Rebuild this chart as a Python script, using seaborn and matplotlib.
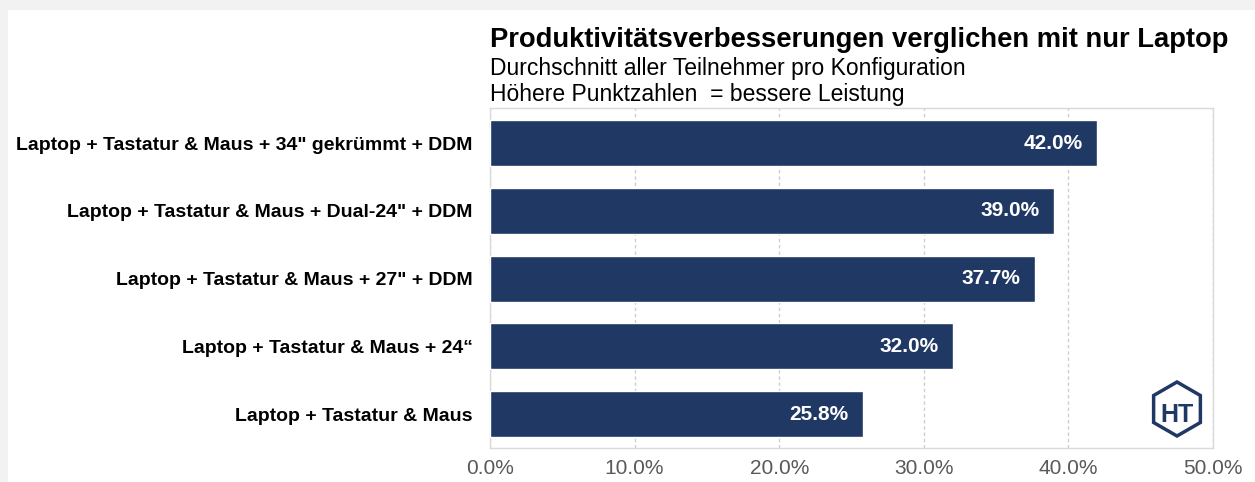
import matplotlib
matplotlib.use("Agg")
import matplotlib.pyplot as plt
import seaborn as sns
import pandas as pd
from matplotlib.patches import Rectangle, RegularPolygon
from matplotlib.ticker import FuncFormatter, MultipleLocator

categories = [
    'Laptop + Tastatur & Maus + 34" gekrümmt + DDM',
    'Laptop + Tastatur & Maus + Dual-24" + DDM',
    'Laptop + Tastatur & Maus + 27" + DDM',
    'Laptop + Tastatur & Maus + 24“',
    'Laptop + Tastatur & Maus',
]
values = [42.0, 39.0, 37.7, 32.0, 25.8]
title = "Produktivitätsverbesserungen verglichen mit nur Laptop"
subtitle1 = "Durchschnitt aller Teilnehmer pro Konfiguration"
subtitle2 = "Höhere Punktzahlen  = bessere Leistung"

sns.set_theme(style="white")
plt.rcParams['font.family'] = ['Liberation Sans', 'DejaVu Sans']

df = pd.DataFrame({"config": categories, "value": values})

fig = plt.figure(figsize=(12.55, 4.82), dpi=100, facecolor="#f2f2f2")
fig.patches.append(Rectangle((8/1255, 0), 1 - 8/1255, 1 - 10/482,
                             transform=fig.transFigure, facecolor="white",
                             edgecolor="none", zorder=-5))
ax = fig.add_axes([490/1255, 1 - 448/482, (1213-490)/1255, (448-108)/482])
ax.set_facecolor("white")
ax.set_zorder(1)

sns.barplot(data=df, x="value", y="config", color="#203864", width=0.68,
            saturation=1, ax=ax, zorder=3)
ax.set_xlim(0, 50)
ax.set_ylim(4.5, -0.52)
ax.xaxis.set_major_locator(MultipleLocator(10))
ax.xaxis.set_major_formatter(FuncFormatter(lambda v, p: f"{v:.1f}%"))
ax.grid(axis="x", color="#cfcfcf", linestyle=(0, (2.5, 2)), linewidth=1, zorder=0)
ax.set_axisbelow(True)
ax.set_xlabel("")
ax.set_ylabel("")
for s in ax.spines.values():
    s.set_color("#d9d9d9")
    s.set_linewidth(1)
ax.tick_params(axis="x", colors="#595959", labelsize=15, length=0, pad=8)
ax.tick_params(axis="y", length=0, pad=12.5)
for lab in ax.get_yticklabels():
    lab.set_fontweight("bold")
    lab.set_fontsize(14)
    lab.set_color("black")

for i, v in enumerate(values):
    ax.text(v - 1.0, i, f"{v:.1f}%", color="white", fontweight="bold",
            fontsize=15, ha="right", va="center", zorder=4)

fig.text(490/1255, 1 - 40/482, title, fontsize=19.7, fontweight="bold",
         ha="left", va="center", color="black")
fig.text(490/1255, 1 - 69/482, subtitle1, fontsize=16.5, ha="left",
         va="center", color="black")
fig.text(490/1255, 1 - 95/482, subtitle2, fontsize=16.5, ha="left",
         va="center", color="black")

# logo
lx, ly = 1177/1255, 1 - 409/482
hexagon = RegularPolygon((1177, 482 - 409), numVertices=6, radius=27,
                         orientation=0, transform=None,
                         facecolor="white", edgecolor="#203864", linewidth=2.5, zorder=5)
fig.patches.append(hexagon)
fig.text(lx, ly - 0.012, "HT", fontsize=18, fontweight="bold", color="#203864",
         ha="center", va="center", zorder=6)

fig.savefig("out.png", dpi=100, facecolor=fig.get_facecolor())
